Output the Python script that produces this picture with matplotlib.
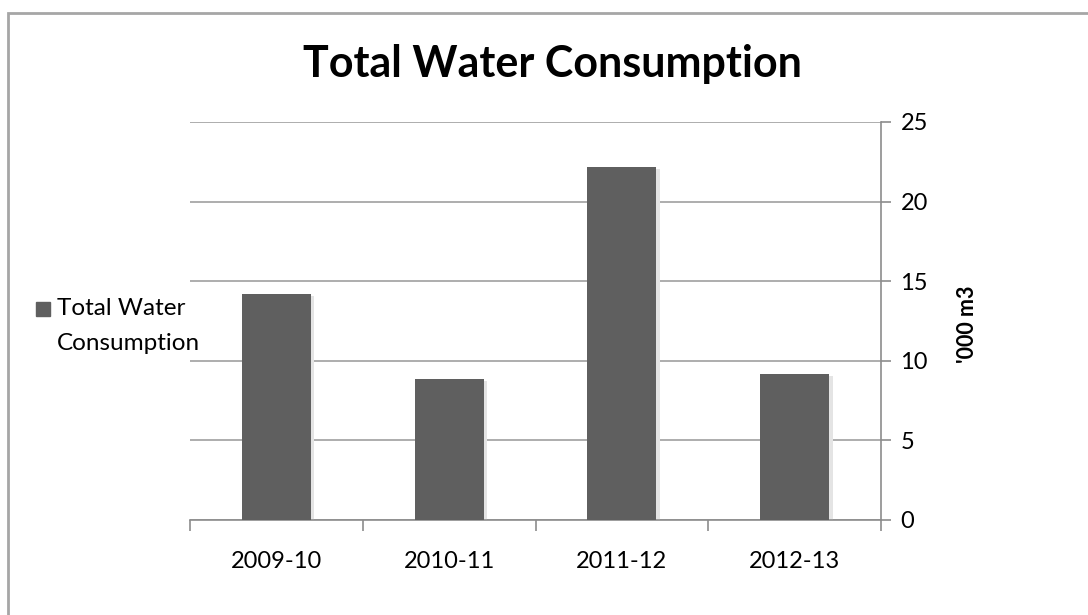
import matplotlib
matplotlib.use("Agg")
import matplotlib.pyplot as plt
from matplotlib.patches import Rectangle

categories = ["2009-10", "2010-11", "2011-12", "2012-13"]
values = [14.2, 8.85, 22.15, 9.15]
yticks = [0, 5, 10, 15, 20, 25]
title = "Total Water Consumption"
series_name = "Total Water\nConsumption"
ylabel = "'000 m3"

W, H = 1088, 615
fig = plt.figure(figsize=(W / 100, H / 100), dpi=100)
fig.patch.set_facecolor("white")

# outer frame (top/left visible)
fig.add_artist(Rectangle((8 / W, -0.05), 1.2, (H - 13) / H + 0.05, transform=fig.transFigure,
                         fill=False, edgecolor="#a6a6a6", linewidth=2))

left, right, top, bottom = 190, 881, 122, 520
ax = fig.add_axes([left / W, 1 - bottom / H, (right - left) / W, (bottom - top) / H])
ax.set_facecolor("none")

x = list(range(len(categories)))
bar_color = "#5f5f5f"
# subtle shadow
ax.bar([i + 0.02 for i in x], values, width=0.4, color="#e4e4e4", zorder=2,
       bottom=-0.1)
ax.bar(x, values, width=0.4, color=bar_color, zorder=3)

ax.set_xlim(-0.5, len(categories) - 0.5)
ax.set_ylim(0, 25)
ax.set_yticks(yticks)
ax.yaxis.tick_right()
ax.grid(axis="y", color="#a0a0a0", linewidth=1.2, zorder=1)
for s in ["top", "left"]:
    ax.spines[s].set_visible(False)
ax.spines["right"].set_color("#8c8c8c")
ax.spines["bottom"].set_color("#8c8c8c")
ax.spines["right"].set_linewidth(1.2)
ax.spines["bottom"].set_linewidth(1.2)

ax.set_xticks([i - 0.5 for i in range(len(categories) + 1)], minor=False)
ax.set_xticklabels([])
ax.tick_params(axis="x", which="major", direction="out", length=8, color="#8c8c8c", width=1.2)
ax.set_xticks(x, minor=True)
ax.set_xticklabels(categories, minor=True, fontsize=17, family="Lato")
ax.tick_params(axis="x", which="minor", length=0, pad=22)
ax.tick_params(axis="y", direction="out", length=7, color="#8c8c8c", width=1.2,
               labelsize=17, pad=7)
for t in ax.get_yticklabels():
    t.set_family("Lato")

fig.text(967 / W, 1 - 324 / H, ylabel, rotation=90, ha="center", va="center",
         fontsize=15.5, fontweight="bold", family="Lato")

fig.text(552 / W, 1 - 64 / H, title, ha="center", va="center", fontsize=31,
         fontweight="bold", family="Lato")

# legend
fig.add_artist(Rectangle((36 / W, 1 - 316 / H), 14 / W, 14 / H, transform=fig.transFigure,
                         color=bar_color))
fig.text(57 / W, 1 - 326 / H, series_name, ha="left", va="center", fontsize=17.5,
         family="Lato", linespacing=1.8)

fig.savefig("out.png", dpi=100)
